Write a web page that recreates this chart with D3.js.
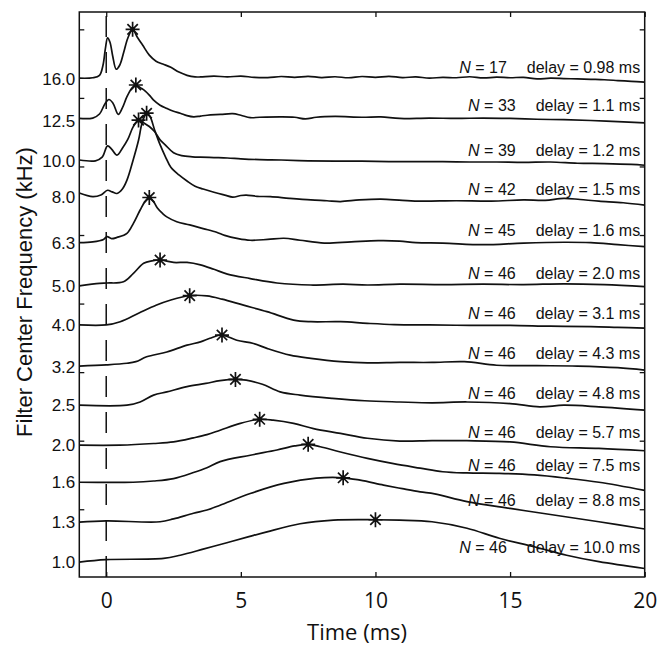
<!DOCTYPE html>
<html><head><meta charset="utf-8">
<script src="https://cdn.jsdelivr.net/npm/d3@7"></script>
<style>body{margin:0;background:#fff}</style>
</head><body><svg id="chart" width="660" height="654"></svg>
<script>
// ---- data (bottom trace first) ----
const freqLabels = ["1.0","1.3","1.6","2.0","2.5","3.2","4.0","5.0","6.3","8.0","10.0","12.5","16.0"];
const offsets    = [0, 9.9, 19.8, 29.0, 38.9, 48.5, 58.8, 68.4, 79.2, 90.5, 99.5, 109.5, 119.8];
const nCounts    = [46, 46, 46, 46, 46, 46, 46, 46, 45, 42, 39, 33, 17];
const delays     = [10.0, 8.8, 7.5, 5.7, 4.8, 4.3, 3.1, 2.0, 1.6, 1.5, 1.2, 1.1, 0.98];
const delayText  = ["10.0","8.8","7.5","5.7","4.8","4.3","3.1","2.0","1.6","1.5","1.2","1.1","0.98"];
const labelLevels= [2.2, 13.9, 22.6, 30.7, 40.5, 50.3, 60.2, 70.3, 80.8, 91.0, 100.8, 111.8, 121.2];
const xTicks = [0, 5, 10, 15, 20];
const yMinorTicks = [13.1, 30.1, 47.1, 64.1, 81.1, 98.1, 115.1, 132.1];

const tr1_0 = [[-1,0],[0,0.6],[2.13,0.9],[2.75,1.7],[3.6,3.2],[4.48,4.8],[5.3,6.3],[5.97,7.5],[7.2,9.5],[8.44,10.4],[10.0,10.5],[10.9,10.4],[12.1,10.0],[13.4,8.4],[14.6,5.9],[15.9,3.8],[17.1,1.7],[18.3,0.1],[20,-1.6]];
const tr1_3 = [[-1,0],[0,0.3],[2.0,0.1],[2.5,0.8],[3.24,2.2],[3.74,3.0],[4.23,4.2],[5.35,7.1],[6.6,9.6],[7.8,10.9],[8.8,11.0],[9.43,10.4],[10.3,9.2],[11.0,8.3],[11.66,7.5],[12.2,7.0],[13.4,5.1],[15,3.4],[16.5,1.9],[18.3,0.1],[20,-1.7]];
const tr1_6 = [[-1,0],[1.0,0],[1.76,0.3],[2.5,0.9],[3.24,2.4],[3.74,3.6],[4.23,5.1],[5.35,6.7],[6.34,8.0],[7.0,9.0],[7.5,9.4],[7.95,8.8],[8.7,7.5],[9.7,5.9],[10.67,4.6],[11.66,3.5],[12.5,2.6],[13.4,2.3],[14.6,2.2],[15.9,1.8],[17.1,1.0],[18.3,0],[20,-2.0]];
const tr2_0 = [[-1,0],[0.5,0],[1.76,0.4],[2.5,0.8],[3.24,1.8],[3.74,2.6],[4.23,3.7],[4.98,5.4],[5.7,6.4],[6.2,6.2],[6.96,5.4],[7.7,4.1],[8.7,2.9],[9.7,1.7],[10.9,1.0],[12.1,1.1],[13.4,1.1],[15,0.8],[16.5,-0.4],[18.3,-0.8],[20,-1.4]];
const tr2_5 = [[-1,0],[0.77,0],[1.26,0.8],[1.76,2.5],[2.25,3.3],[3.0,4.6],[3.7,5.4],[4.23,6.1],[4.8,6.4],[5.2,6.2],[5.8,5.2],[6.46,3.3],[7.2,2.5],[8.4,1.7],[9.6,1.1],[10.9,0.8],[12.1,0.6],[13.4,0.8],[15,0.4],[16.1,-0.4],[17,0],[18.3,-0.4],[20,-1.2]];
const tr3_2 = [[-1,0.1],[0,0.4],[0.77,0.8],[1.1,1.2],[1.5,2.4],[2.25,3.6],[3.0,5.3],[3.5,6.1],[3.85,7.0],[4.3,7.8],[4.85,6.5],[5.47,5.7],[5.97,4.5],[6.83,2.8],[7.6,2.0],[8.7,1.2],[9.7,0.9],[10.9,1.0],[12.1,1.0],[13.3,1.2],[14.5,0.3],[16,0.2],[17.5,0.1],[19,-0.3],[20,-0.9]];
const tr4_0 = [[-1,0],[0,0],[0.52,0.8],[1.2,2.9],[1.85,4.9],[2.4,6.2],[3.12,7.3],[3.74,7.2],[4.3,6.4],[5.1,4.9],[5.97,3.3],[6.96,1.2],[7.6,0.8],[8.7,0.8],[9.7,0.4],[10.7,0.1],[12,0],[13.5,-0.1],[15,-0.1],[16.5,-0.3],[18,-0.4],[19,-0.6],[20,-0.8]];
const tr5_0 = [[-1,0.1],[-0.25,0.7],[0.03,0.8],[0.64,1.1],[1.01,3.2],[1.39,5.7],[1.7,6.3],[2.0,6.5],[2.5,5.9],[3.0,5.9],[3.5,5.3],[4.0,4.2],[4.5,3.0],[5.35,1.9],[6.34,0.8],[7.6,0.3],[8.8,0.5],[9.7,0.3],[10.9,0.5],[12.5,0.4],[14,0.5],[15.5,0.4],[17,0.6],[18.5,0.4],[20,-0.1]];
const tr6_3 = [[-1,0],[-0.5,0.2],[-0.1,0.8],[0.03,1.5],[0.2,1.0],[0.4,1.3],[0.77,2.3],[1.01,4.8],[1.26,8.1],[1.45,10.3],[1.6,11.2],[1.75,10.3],[1.9,8.6],[2.1,7.2],[2.25,6.4],[2.62,5.2],[3.1,4.4],[3.6,3.5],[4.1,2.6],[4.4,1.8],[4.9,1.0],[5.35,0.6],[6.0,0.8],[6.6,1.1],[7.2,0.6],[8.1,-0.1],[9.1,0.2],[10.1,0.5],[10.9,0.4],[11.5,0.0],[12.5,-0.1],[14,-0.5],[15.5,-0.1],[17,0.1],[18,0.0],[19,-0.5],[20,-1.0]];
const tr8_0 = [[-1,1.0],[-0.5,0.1],[-0.2,0.5],[0.05,1.7],[0.22,1.3],[0.4,0.9],[0.6,2.0],[0.77,4.2],[1.0,9.2],[1.2,14.1],[1.33,18.3],[1.5,20.8],[1.62,20.1],[1.8,16.6],[2.0,13.0],[2.2,10.0],[2.4,7.4],[2.7,5.5],[3.0,4.0],[3.3,2.7],[3.6,2.0],[4.0,1.2],[4.4,0.5],[4.7,0.0],[5.0,0.4],[5.2,0.5],[5.6,0.2],[6.1,0.1],[6.8,-0.3],[7.6,-0.7],[8.2,-0.9],[8.7,-1.1],[9.4,-0.7],[10.2,-0.5],[11.0,-0.8],[11.7,-1.0],[13.0,-0.9],[14.3,-1.0],[15.5,-0.7],[16.3,-0.8],[17.0,-0.3],[17.6,-0.6],[18.3,-1.0],[19.2,-1.4],[20,-2.0]];
const tr10_0 = [[-1,0.2],[-0.4,0],[-0.15,0.9],[0.05,3.7],[0.2,2.9],[0.4,1.4],[0.6,3.1],[0.8,5.3],[1.0,8.4],[1.2,10.1],[1.4,9.4],[1.6,8.5],[1.8,7.2],[2.0,5.2],[2.2,3.9],[2.5,2.0],[2.8,1.3],[3.2,1.0],[3.5,0.9],[4.0,0.8],[4.5,0.7],[5.0,0.5],[5.7,0.3],[6.5,0.2],[7.5,0.0],[8.5,-0.1],[9.5,-0.1],[10.5,-0.2],[11.5,-0.2],[12.5,-0.2],[13.5,-0.3],[14.5,-0.3],[15.5,-0.4],[16.5,-0.3],[17.5,-0.6],[18.5,-0.7],[19.5,-0.9],[20,-1.1]];
const tr12_5 = [[-1,0.5],[-0.5,0.6],[-0.25,1.6],[-0.05,4.1],[0.1,5.2],[0.25,4.3],[0.45,1.5],[0.6,3.1],[0.77,5.9],[0.95,8.0],[1.1,8.8],[1.3,8.0],[1.45,7.3],[1.6,6.3],[1.75,5.1],[2.0,3.8],[2.25,3.0],[2.5,2.3],[2.75,1.8],[3.0,1.2],[3.25,0.9],[3.5,1.1],[3.75,1.3],[4.25,1.5],[4.7,1.7],[5.0,1.3],[5.35,0.7],[5.7,0.8],[6.5,0.9],[7.0,0.8],[7.4,0.4],[7.8,0.8],[8.5,1.0],[9.5,0.8],[10.2,0.9],[10.9,0.5],[12,0.6],[13,0.5],[14,0.6],[15,0.5],[16,0.3],[17,0.2],[18,0.0],[19,-0.3],[20,-0.6]];
const tr16_0 = [[-1,0.2],[-0.5,0.3],[-0.25,0.9],[-0.12,3.4],[-0.03,7.6],[0.05,10.2],[0.14,9.1],[0.24,5.7],[0.37,2.4],[0.5,3.4],[0.65,6.6],[0.8,10.1],[0.98,12.3],[1.15,10.4],[1.35,8.4],[1.6,5.9],[1.85,4.4],[2.1,3.7],[2.4,2.9],[2.7,1.7],[3.0,0.9],[3.3,0.5],[3.5,0.5],[4.0,0.7],[4.5,0.5],[5.0,0.7],[5.5,0.4],[6.0,0.35],[6.5,0.6],[7.0,0.4],[7.5,0.65],[8.0,0.35],[8.5,0.55],[9.0,0.3],[9.5,0.6],[10.0,0.4],[10.5,0.65],[11.0,0.35],[11.5,0.5],[12.0,0.2],[12.5,0.4],[13.0,0.3],[13.5,0.55],[14.0,0.25],[14.5,0.45],[15.0,0.3],[15.5,0.4],[16.0,0.0],[16.5,0.2],[17.0,0.1],[17.5,0.0],[18.0,-0.1],[18.5,-0.2],[19.0,-0.4],[19.5,-0.6],[20,-0.8]];
const traces = [tr1_0, tr1_3, tr1_6, tr2_0, tr2_5, tr3_2, tr4_0, tr5_0, tr6_3, tr8_0, tr10_0, tr12_5, tr16_0];

// ---- drawing ----
const svg = d3.select("#chart");
const x = d3.scaleLinear().domain([-1, 20]).range([79.3, 644.7]);
const y = d3.scaleLinear().domain([-3.7, 136.4]).range([577, 12]);
const [x0, x1] = x.range(), [yb, yt] = y.range();
const ink = "#111";

// dashed zero line
svg.append("line")
  .attr("x1", x(0)).attr("x2", x(0)).attr("y1", yb).attr("y2", yt)
  .attr("stroke", ink).attr("stroke-width", 1.5).attr("stroke-dasharray", "21,15");

// traces
const line = d3.line().curve(d3.curveCatmullRom.alpha(0.5));
traces.forEach((tr, i) => {
  svg.append("path")
    .attr("d", line(tr.map(d => [x(d[0]), y(offsets[i] + d[1])])))
    .attr("fill", "none").attr("stroke", ink).attr("stroke-width", 1.7)
    .attr("stroke-linejoin", "round");
});

// stars at delay
function valueAt(tr, t) {
  for (let k = 0; k < tr.length - 1; k++) {
    if (t >= tr[k][0] && t <= tr[k + 1][0]) {
      const f = (t - tr[k][0]) / (tr[k + 1][0] - tr[k][0]);
      return tr[k][1] + f * (tr[k + 1][1] - tr[k][1]);
    }
  }
  return 0;
}
const starPath = "M0,-7.5V7.5M-7,0H7M-5.2,-5.2L5.2,5.2M-5.2,5.2L5.2,-5.2";
traces.forEach((tr, i) => {
  const g = svg.append("g")
    .attr("transform", `translate(${x(delays[i])},${y(offsets[i] + valueAt(tr, delays[i]))})`);
  g.append("path").attr("d", starPath)
    .attr("fill", "none").attr("stroke", ink).attr("stroke-width", 1.7);
  g.append("circle").attr("r", 2.2).attr("fill", ink);
});

// frame
svg.append("rect").attr("x", x0).attr("y", yt).attr("width", x1 - x0).attr("height", yb - yt)
  .attr("fill", "none").attr("stroke", ink).attr("stroke-width", 1.5);

// axes with inward ticks
const gB = svg.append("g").attr("transform", `translate(0,${yb})`)
  .call(d3.axisBottom(x).tickValues(xTicks).tickSizeInner(-5).tickSizeOuter(0).tickPadding(16));
const gT = svg.append("g").attr("transform", `translate(0,${yt})`)
  .call(d3.axisTop(x).tickValues(xTicks).tickSizeInner(-5).tickSizeOuter(0).tickFormat(""));
const gL = svg.append("g").attr("transform", `translate(${x0},0)`)
  .call(d3.axisLeft(y).tickValues(yMinorTicks).tickSizeInner(-5).tickSizeOuter(0).tickFormat(""));
const gR = svg.append("g").attr("transform", `translate(${x1},0)`)
  .call(d3.axisRight(y).tickValues(yMinorTicks).tickSizeInner(-5).tickSizeOuter(0).tickFormat(""));
[gB, gT, gL, gR].forEach(g => {
  g.select(".domain").remove();
  g.selectAll(".tick line").attr("stroke", ink).attr("stroke-width", 1.3);
});
gB.selectAll(".tick text").attr("font-family", "'Open Sans', sans-serif").attr("font-size", 21).attr("fill", ink);

// y labels (frequencies)
svg.append("g").selectAll("text").data(freqLabels).join("text")
  .attr("x", x0 - 4).attr("y", (d, i) => y(offsets[i]))
  .attr("dy", "0.36em").attr("text-anchor", "end")
  .attr("font-family", "'Liberation Sans', Arial, sans-serif").attr("font-size", 17).attr("fill", ink)
  .text(d => d);

// annotations
const annot = svg.append("g").attr("font-family", "'Liberation Sans', Arial, sans-serif")
  .attr("font-size", 16).attr("fill", ink);
traces.forEach((tr, i) => {
  const yy = y(labelLevels[i]);
  const dt = annot.append("text").attr("x", x1 - 4.5).attr("y", yy).attr("text-anchor", "end")
    .text(`delay = ${delayText[i]} ms`);
  const w = dt.node().getComputedTextLength();
  const nt = annot.append("text").attr("x", x1 - 4.5 - w - 20).attr("y", yy).attr("text-anchor", "end");
  nt.append("tspan").attr("font-style", "italic").text("N");
  nt.append("tspan").text(` = ${nCounts[i]}`);
});

// axis titles
svg.append("text").attr("x", 357).attr("y", 640).attr("text-anchor", "middle")
  .attr("font-family", "'Open Sans', sans-serif").attr("font-size", 22).attr("fill", ink)
  .text("Time (ms)");
svg.append("text").attr("transform", "translate(32,292) rotate(-90)").attr("text-anchor", "middle")
  .attr("font-family", "'Liberation Sans', Arial, sans-serif").attr("font-size", 22).attr("fill", ink)
  .text("Filter Center Frequency (kHz)");
</script></body></html>
